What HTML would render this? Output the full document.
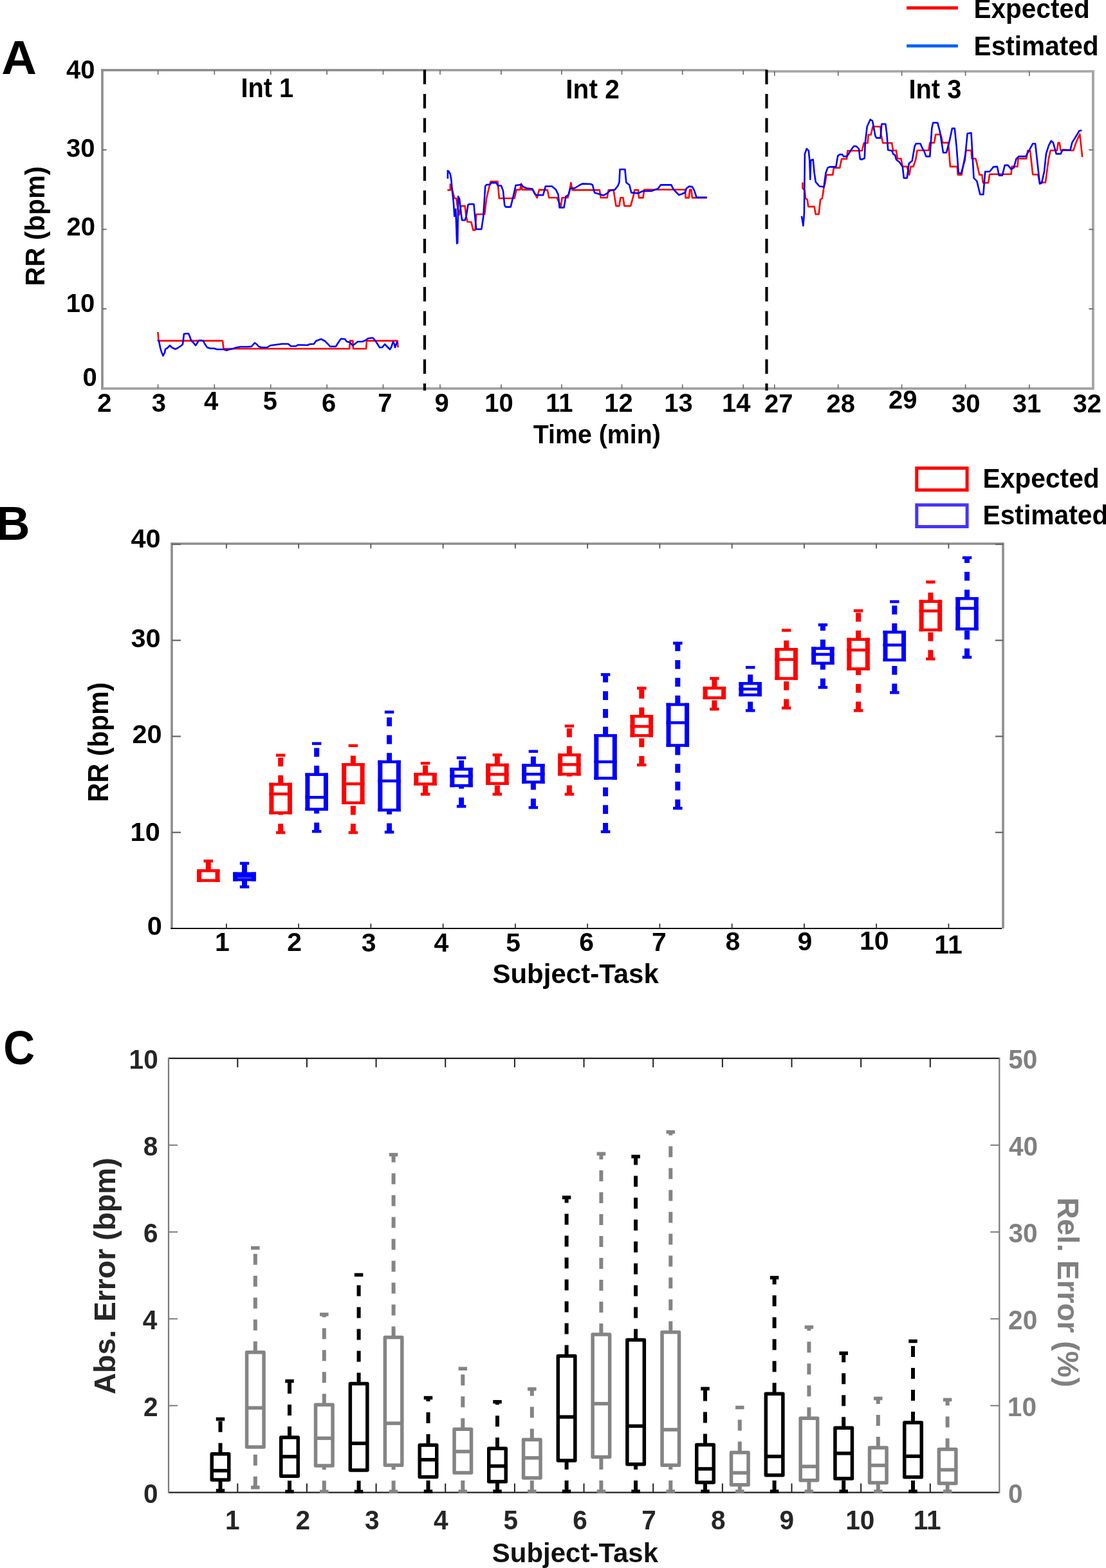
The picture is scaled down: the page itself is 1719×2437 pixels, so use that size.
<!DOCTYPE html>
<html><head><meta charset="utf-8"><title>Figure</title>
<style>
html,body{margin:0;padding:0;background:#fff;}
body{width:1719px;height:2437px;overflow:hidden;}
svg{display:block;}
svg text{font-family:'Liberation Sans', Arial, sans-serif;font-weight:bold;}
</style></head>
<body>
<svg width="1719" height="2437" viewBox="0 0 1719 2437">
<rect width="1719" height="2437" fill="#fff"/>
<line x1="1409.1" y1="12.3" x2="1488.9" y2="12.3" stroke="#ff0000" stroke-width="4.9" />
<line x1="1409.1" y1="71.4" x2="1488.9" y2="71.4" stroke="#0060ff" stroke-width="4.9" />
<text transform="translate(1513.56,85.90) scale(0.9742,1)" font-size="41.70" fill="#000">Estimated</text>
<text transform="translate(1513.57,27.70) scale(0.9715,1)" font-size="41.70" fill="#000">Expected</text>
<text transform="translate(2.20,114.90) scale(1.0302,1)" font-size="73.60" fill="#000">A</text>
<line x1="159" y1="107.8" x2="159" y2="605.6999999999999" stroke="#8f8f8f" stroke-width="3.7" />
<line x1="1698.9" y1="109.10000000000001" x2="1698.9" y2="605.6999999999999" stroke="#a3a3a3" stroke-width="3.8" />
<line x1="159" y1="603.9" x2="1698.9" y2="603.9" stroke="#a2a2a2" stroke-width="3.8" />
<line x1="157.2" y1="109.0" x2="660" y2="109.0" stroke="#8a8a8a" stroke-width="3.7" />
<line x1="660" y1="109.0" x2="1192" y2="109.0" stroke="#9a9a9a" stroke-width="3.7" />
<line x1="1192" y1="110.9" x2="1700.8000000000002" y2="110.9" stroke="#a8a8a8" stroke-width="3.8" />
<line x1="245.6" y1="603.9" x2="245.6" y2="597.4" stroke="#666" stroke-width="1.6" />
<line x1="245.6" y1="109.0" x2="245.6" y2="116.0" stroke="#666" stroke-width="1.6" />
<line x1="333.3" y1="603.9" x2="333.3" y2="597.4" stroke="#666" stroke-width="1.6" />
<line x1="333.3" y1="109.0" x2="333.3" y2="116.0" stroke="#666" stroke-width="1.6" />
<line x1="420.7" y1="603.9" x2="420.7" y2="597.4" stroke="#666" stroke-width="1.6" />
<line x1="420.7" y1="109.0" x2="420.7" y2="116.0" stroke="#666" stroke-width="1.6" />
<line x1="508.1" y1="603.9" x2="508.1" y2="597.4" stroke="#666" stroke-width="1.6" />
<line x1="508.1" y1="109.0" x2="508.1" y2="116.0" stroke="#666" stroke-width="1.6" />
<line x1="595.5" y1="603.9" x2="595.5" y2="597.4" stroke="#666" stroke-width="1.6" />
<line x1="595.5" y1="109.0" x2="595.5" y2="116.0" stroke="#666" stroke-width="1.6" />
<line x1="684.0" y1="603.9" x2="684.0" y2="597.4" stroke="#666" stroke-width="1.6" />
<line x1="684.0" y1="109.0" x2="684.0" y2="116.0" stroke="#666" stroke-width="1.6" />
<line x1="778.9" y1="603.9" x2="778.9" y2="597.4" stroke="#666" stroke-width="1.6" />
<line x1="778.9" y1="109.0" x2="778.9" y2="116.0" stroke="#666" stroke-width="1.6" />
<line x1="873.0" y1="603.9" x2="873.0" y2="597.4" stroke="#666" stroke-width="1.6" />
<line x1="873.0" y1="109.0" x2="873.0" y2="116.0" stroke="#666" stroke-width="1.6" />
<line x1="966.5" y1="603.9" x2="966.5" y2="597.4" stroke="#666" stroke-width="1.6" />
<line x1="966.5" y1="109.0" x2="966.5" y2="116.0" stroke="#666" stroke-width="1.6" />
<line x1="1060.7" y1="603.9" x2="1060.7" y2="597.4" stroke="#666" stroke-width="1.6" />
<line x1="1060.7" y1="109.0" x2="1060.7" y2="116.0" stroke="#666" stroke-width="1.6" />
<line x1="1155.2" y1="603.9" x2="1155.2" y2="597.4" stroke="#666" stroke-width="1.6" />
<line x1="1155.2" y1="109.0" x2="1155.2" y2="116.0" stroke="#666" stroke-width="1.6" />
<line x1="1203.8" y1="603.9" x2="1203.8" y2="597.4" stroke="#666" stroke-width="1.6" />
<line x1="1203.8" y1="110.9" x2="1203.8" y2="117.9" stroke="#666" stroke-width="1.6" />
<line x1="1302.7" y1="603.9" x2="1302.7" y2="597.4" stroke="#666" stroke-width="1.6" />
<line x1="1302.7" y1="110.9" x2="1302.7" y2="117.9" stroke="#666" stroke-width="1.6" />
<line x1="1401.6" y1="603.9" x2="1401.6" y2="597.4" stroke="#666" stroke-width="1.6" />
<line x1="1401.6" y1="110.9" x2="1401.6" y2="117.9" stroke="#666" stroke-width="1.6" />
<line x1="1500.6" y1="603.9" x2="1500.6" y2="597.4" stroke="#666" stroke-width="1.6" />
<line x1="1500.6" y1="110.9" x2="1500.6" y2="117.9" stroke="#666" stroke-width="1.6" />
<line x1="1599.8" y1="603.9" x2="1599.8" y2="597.4" stroke="#666" stroke-width="1.6" />
<line x1="1599.8" y1="110.9" x2="1599.8" y2="117.9" stroke="#666" stroke-width="1.6" />
<line x1="159" y1="480.05" x2="165.5" y2="480.05" stroke="#666" stroke-width="1.8" />
<line x1="1698.9" y1="480.05" x2="1692.4" y2="480.05" stroke="#666" stroke-width="1.8" />
<line x1="159" y1="356.5" x2="165.5" y2="356.5" stroke="#666" stroke-width="1.8" />
<line x1="1698.9" y1="356.5" x2="1692.4" y2="356.5" stroke="#666" stroke-width="1.8" />
<line x1="159" y1="232.95" x2="165.5" y2="232.95" stroke="#666" stroke-width="1.8" />
<line x1="1698.9" y1="232.95" x2="1692.4" y2="232.95" stroke="#666" stroke-width="1.8" />
<text x="103.00" y="121.50" font-size="40.00" fill="#000">40</text>
<text x="103.00" y="244.30" font-size="40.00" fill="#000">30</text>
<text x="103.40" y="366.40" font-size="40.00" fill="#000">20</text>
<text x="102.80" y="484.50" font-size="40.00" fill="#000">10</text>
<text x="128.40" y="599.60" font-size="40.00" fill="#000">0</text>
<text x="151.30" y="640.20" font-size="40.00" fill="#000">2</text>
<text x="235.80" y="640.20" font-size="40.00" fill="#000">3</text>
<text x="317.00" y="637.20" font-size="40.00" fill="#000">4</text>
<text x="408.80" y="637.20" font-size="40.00" fill="#000">5</text>
<text x="500.00" y="640.20" font-size="40.00" fill="#000">6</text>
<text x="587.30" y="640.20" font-size="40.00" fill="#000">7</text>
<text x="675.40" y="640.10" font-size="40.00" fill="#000">9</text>
<text x="753.30" y="640.10" font-size="40.00" fill="#000">10</text>
<text x="848.30" y="640.10" font-size="40.00" fill="#000">11</text>
<text x="939.30" y="640.10" font-size="40.00" fill="#000">12</text>
<text x="1032.20" y="640.10" font-size="40.00" fill="#000">13</text>
<text x="1122.00" y="640.10" font-size="40.00" fill="#000">14</text>
<text x="1188.10" y="640.90" font-size="40.00" fill="#000">27</text>
<text x="1284.60" y="640.90" font-size="40.00" fill="#000">28</text>
<text x="1381.10" y="635.20" font-size="40.00" fill="#000">29</text>
<text x="1479.00" y="640.90" font-size="40.00" fill="#000">30</text>
<text x="1573.80" y="640.90" font-size="40.00" fill="#000">31</text>
<text x="1667.60" y="640.90" font-size="40.00" fill="#000">32</text>
<text transform="translate(828.81,688.70) scale(0.9829,1)" font-size="40.00" fill="#000">Time (min)</text>
<text transform="translate(68.90,444.39) rotate(-90) scale(0.9862,1)" font-size="41.90" fill="#000">RR (bpm)</text>
<text transform="translate(879.36,152.80) scale(0.9658,1)" font-size="42.00" fill="#000">Int 2</text>
<text transform="translate(1412.51,152.80) scale(0.9475,1)" font-size="42.00" fill="#000">Int 3</text>
<text transform="translate(374.41,150.70) scale(0.9550,1)" font-size="41.70" fill="#000">Int 1</text>
<line x1="660.0" y1="108.6" x2="660.0" y2="606.9" stroke="#000" stroke-width="4.2" stroke-dasharray="22.5 15"/>
<line x1="1191.5" y1="108.6" x2="1191.5" y2="606.9" stroke="#000" stroke-width="4.2" stroke-dasharray="22.5 15"/>
<polyline points="245.4,516.0 246.5,529.6 346.0,529.6 347.5,542.0 543.2,542.0 544.0,529.6 548.3,529.6 549.0,542.0 569.0,542.0 570.0,529.6 617.7,529.6 618.5,540.0" fill="none" stroke="#ff0000" stroke-width="2.6" stroke-linejoin="round"/>
<polyline points="695.4,295.4 699.9,295.4 699.9,286.5 702.8,294.4 706.3,308.3 709.3,308.3 710.7,319.1 713.7,334.0 716.2,321.1 717.7,320.1 722.6,320.1 724.6,336.0 726.5,344.8 732.5,345.3 735.4,357.7 738.4,357.7 740.4,333.0 753.2,333.0 756.2,308.3 760.1,291.5 762.6,282.1 773.5,282.1 775.9,308.3 799.6,308.3 802.6,294.9 808.5,294.9 810.0,285.6 811.5,294.9 828.3,294.9 834.7,307.3 838.1,294.9 850.9,295.4 853.3,307.3 865.7,307.3 871.6,321.1 873.6,307.3 882.5,307.3 885.4,295.4 887.4,284.1 889.4,295.4 931.9,295.4 933.8,307.3 943.7,307.3 945.7,295.4 953.6,295.4 957.5,320.1 962.5,320.1 964.4,307.3 968.4,307.3 970.4,320.1 980.2,320.1 984.2,305.3 986.2,295.4 992.1,295.4 993.0,307.4 999.6,307.4 1001.1,294.8 1064.8,294.8 1065.6,307.4 1070.7,307.4 1072.2,294.8 1074.4,294.8 1075.9,307.4 1098.9,307.4" fill="none" stroke="#ff0000" stroke-width="2.6" stroke-linejoin="round"/>
<polyline points="1247.4,283.6 1247.4,292.5 1250.9,296.4 1251.9,308.3 1254.8,310.2 1256.3,321.1 1265.7,321.1 1267.7,333.0 1272.6,333.0 1275.1,310.2 1278.0,308.3 1280.5,291.5 1282.5,284.6 1284.4,271.7 1294.3,271.7 1295.8,260.9 1305.2,260.9 1308.1,247.0 1316.0,247.0 1317.5,234.2 1339.8,234.2 1342.7,222.3 1348.6,222.3 1349.6,209.5 1353.6,209.5 1356.5,196.7 1368.4,196.7 1369.4,209.5 1372.3,222.3 1386.2,222.3 1388.1,234.2 1393.0,233.7 1394.9,246.5 1400.4,246.5 1402.8,258.9 1409.8,258.9 1413.2,271.7 1415.7,258.9 1419.6,258.9 1423.6,246.5 1425.6,233.7 1443.3,233.7 1445.3,221.9 1452.2,221.9 1454.2,209.0 1462.1,209.0 1465.1,221.9 1473.9,221.9 1476.9,258.9 1487.8,258.9 1488.8,271.7 1494.7,271.7 1496.7,258.9 1501.6,233.7 1509.5,233.7 1510.5,246.5 1516.4,246.5 1519.4,258.9 1522.3,271.7 1526.3,271.7 1527.8,284.1 1536.2,284.1 1538.1,270.7 1571.6,270.7 1572.6,258.9 1581.5,258.9 1582.5,246.5 1595.3,246.5 1597.3,234.2 1601.2,234.2 1605.2,271.2 1613.1,271.2 1616.0,283.6 1624.9,283.6 1629.9,246.5 1632.8,233.7 1642.7,233.7 1644.7,221.9 1646.7,221.9 1648.6,233.7 1668.4,233.7 1672.3,221.9 1678.3,208.5 1682.2,244.1" fill="none" stroke="#ff0000" stroke-width="2.6" stroke-linejoin="round"/>
<polyline points="245.0,528.4 247.0,530.0 249.0,540.0 251.0,547.0 253.5,553.0 256.0,548.0 257.0,542.6 260.0,541.0 264.0,537.0 267.0,540.0 272.5,542.6 276.0,541.0 282.0,537.0 284.0,535.0 286.0,519.0 289.0,518.5 293.0,518.5 295.0,523.0 297.0,529.0 301.0,533.0 304.0,537.0 306.0,534.0 309.0,529.0 313.0,529.0 316.0,530.0 318.0,534.0 322.0,540.0 327.0,541.5 333.0,541.5 337.0,543.0 342.0,543.0 348.0,543.0 352.0,544.5 357.0,543.0 362.0,542.0 368.0,540.0 374.0,539.0 385.0,539.0 391.0,538.5 394.0,535.0 396.0,533.0 399.0,535.0 402.0,538.5 406.0,540.0 415.0,540.0 420.0,537.0 438.0,534.5 448.0,534.5 452.0,538.0 460.0,538.0 463.0,536.0 478.0,536.5 481.0,535.0 488.0,534.5 491.0,530.0 499.0,527.0 505.0,530.0 510.0,535.0 513.0,538.5 522.0,538.5 526.0,532.0 530.0,526.5 536.0,527.0 539.0,531.0 544.0,532.0 548.0,537.0 551.0,535.0 556.0,531.0 563.0,531.0 568.0,529.0 572.0,526.0 579.0,525.0 581.0,526.5 585.0,532.0 590.0,540.0 594.0,540.0 598.0,535.0 602.0,539.0 606.0,543.0 608.0,540.0 611.0,531.0 613.0,535.0 614.0,540.0 617.0,532.0 618.0,534.0" fill="none" stroke="#0000ff" stroke-width="2.6" stroke-linejoin="round"/>
<polyline points="695.9,277.7 695.9,265.3 697.9,266.8 699.9,270.7 701.4,279.6 702.8,296.4 704.8,313.2 706.3,335.9 708.3,325.1 710.2,378.4 711.2,377.4 712.2,305.3 714.2,309.3 716.7,332.0 718.1,342.3 722.6,342.3 724.6,336.9 727.5,318.1 729.5,317.2 736.4,317.2 739.4,348.8 740.4,356.2 748.3,356.2 751.2,336.9 754.2,289.5 756.2,287.0 761.1,287.0 764.1,284.1 771.0,284.1 774.0,288.5 778.9,288.5 781.9,296.4 784.3,319.1 785.8,321.6 793.7,321.6 797.7,305.3 801.6,288.0 810.5,287.0 813.5,290.5 818.4,292.5 827.3,293.5 831.2,301.4 834.2,303.3 844.1,303.3 847.9,289.5 857.8,289.5 863.7,294.4 867.7,302.3 869.6,322.6 876.5,322.6 879.5,305.3 883.5,302.8 886.4,292.5 893.3,292.5 901.2,287.5 905.2,285.6 918.0,286.0 921.0,287.5 924.0,299.4 928.9,300.9 933.8,302.3 937.8,303.8 943.7,300.4 948.6,295.9 955.6,294.9 960.5,288.5 962.5,283.6 963.5,263.3 971.4,263.3 973.3,283.6 978.3,287.5 981.2,299.4 986.2,299.9 992.1,300.4 998.9,297.0 1012.2,297.0 1022.6,293.3 1027.0,287.4 1043.3,287.4 1046.3,293.3 1049.3,297.0 1055.2,303.0 1059.6,301.5 1064.8,299.3 1067.0,292.6 1071.5,289.6 1075.9,290.4 1078.9,295.6 1082.6,306.7 1098.9,306.7" fill="none" stroke="#0000ff" stroke-width="2.6" stroke-linejoin="round"/>
<polyline points="1245.9,335.9 1248.4,350.7 1249.9,332.0 1250.9,239.1 1253.8,231.2 1256.8,234.2 1258.3,249.0 1259.3,278.6 1260.2,249.0 1263.7,248.0 1265.7,268.8 1267.7,282.6 1273.6,289.5 1280.5,290.5 1283.5,268.8 1286.4,260.9 1289.4,259.4 1299.3,259.4 1302.2,242.1 1305.2,240.1 1309.1,240.1 1311.1,243.1 1316.0,243.1 1319.0,239.1 1324.0,231.2 1326.9,227.3 1330.9,227.3 1334.8,231.2 1336.8,247.0 1338.8,248.0 1343.7,246.0 1344.7,222.3 1347.7,196.7 1352.6,185.8 1356.0,187.8 1360.5,211.5 1362.5,214.4 1368.4,214.4 1370.4,192.7 1376.3,192.7 1378.3,207.5 1380.2,233.2 1386.2,234.2 1388.1,239.1 1391.1,241.1 1393.0,248.0 1397.9,252.0 1402.8,258.9 1404.8,276.7 1409.8,276.7 1412.7,254.0 1417.7,250.0 1421.6,227.3 1423.6,223.3 1430.5,223.3 1433.5,230.2 1436.4,235.2 1439.4,243.1 1445.3,243.1 1448.3,199.6 1450.2,190.7 1457.2,190.7 1461.1,205.6 1466.0,237.2 1471.0,237.2 1475.9,218.4 1479.9,199.6 1483.8,199.6 1486.8,229.3 1489.8,268.8 1493.7,269.8 1499.6,249.0 1503.6,207.5 1509.5,206.5 1513.5,276.7 1518.4,281.6 1523.3,302.3 1528.3,302.3 1531.2,266.8 1538.1,266.8 1544.1,259.4 1549.9,258.9 1552.8,272.7 1557.8,272.7 1561.7,256.9 1566.7,256.9 1571.6,262.8 1575.6,260.9 1579.5,247.0 1583.5,243.1 1594.3,243.1 1599.3,234.2 1605.2,223.3 1609.1,223.3 1613.1,258.9 1616.0,285.6 1619.0,284.6 1623.0,266.8 1625.9,239.1 1629.9,226.3 1633.8,218.9 1636.8,221.4 1641.7,239.1 1648.6,239.1 1651.6,232.7 1663.5,233.2 1666.4,221.4 1671.4,213.5 1677.3,203.6 1681.2,202.6" fill="none" stroke="#0000ff" stroke-width="2.6" stroke-linejoin="round"/>
<text transform="translate(-6.61,838.70) scale(1.0000,1)" font-size="73.50" fill="#000">B</text>
<rect x="1424.8" y="727.6" width="78.29999999999995" height="34.0" fill="none" stroke="#ff0000" stroke-width="5"/>
<rect x="1424.8" y="784.8" width="78.29999999999995" height="33.700000000000045" fill="none" stroke="#4433ff" stroke-width="5"/>
<text transform="translate(1527.45,757.80) scale(0.9805,1)" font-size="41.60" fill="#000">Expected</text>
<text transform="translate(1527.45,814.70) scale(0.9805,1)" font-size="41.60" fill="#000">Estimated</text>
<line x1="267.0" y1="845.0" x2="1559.0" y2="845.0" stroke="#8e8e8e" stroke-width="3.6" />
<line x1="267.0" y1="843.2" x2="267.0" y2="1443.0" stroke="#8e8e8e" stroke-width="3.6" />
<line x1="1559.0" y1="843.2" x2="1559.0" y2="1443.0" stroke="#8e8e8e" stroke-width="3.6" />
<line x1="265.2" y1="1443.0" x2="1557.2" y2="1443.0" stroke="#111" stroke-width="2.2" />
<line x1="351.9" y1="1443.0" x2="351.9" y2="1435.5" stroke="#333" stroke-width="1.8" />
<line x1="351.9" y1="845.0" x2="351.9" y2="852.5" stroke="#555" stroke-width="1.8" />
<line x1="464.15" y1="1443.0" x2="464.15" y2="1435.5" stroke="#333" stroke-width="1.8" />
<line x1="464.15" y1="845.0" x2="464.15" y2="852.5" stroke="#555" stroke-width="1.8" />
<line x1="576.4" y1="1443.0" x2="576.4" y2="1435.5" stroke="#333" stroke-width="1.8" />
<line x1="576.4" y1="845.0" x2="576.4" y2="852.5" stroke="#555" stroke-width="1.8" />
<line x1="688.65" y1="1443.0" x2="688.65" y2="1435.5" stroke="#333" stroke-width="1.8" />
<line x1="688.65" y1="845.0" x2="688.65" y2="852.5" stroke="#555" stroke-width="1.8" />
<line x1="800.9" y1="1443.0" x2="800.9" y2="1435.5" stroke="#333" stroke-width="1.8" />
<line x1="800.9" y1="845.0" x2="800.9" y2="852.5" stroke="#555" stroke-width="1.8" />
<line x1="913.15" y1="1443.0" x2="913.15" y2="1435.5" stroke="#333" stroke-width="1.8" />
<line x1="913.15" y1="845.0" x2="913.15" y2="852.5" stroke="#555" stroke-width="1.8" />
<line x1="1025.4" y1="1443.0" x2="1025.4" y2="1435.5" stroke="#333" stroke-width="1.8" />
<line x1="1025.4" y1="845.0" x2="1025.4" y2="852.5" stroke="#555" stroke-width="1.8" />
<line x1="1137.65" y1="1443.0" x2="1137.65" y2="1435.5" stroke="#333" stroke-width="1.8" />
<line x1="1137.65" y1="845.0" x2="1137.65" y2="852.5" stroke="#555" stroke-width="1.8" />
<line x1="1249.9" y1="1443.0" x2="1249.9" y2="1435.5" stroke="#333" stroke-width="1.8" />
<line x1="1249.9" y1="845.0" x2="1249.9" y2="852.5" stroke="#555" stroke-width="1.8" />
<line x1="1362.15" y1="1443.0" x2="1362.15" y2="1435.5" stroke="#333" stroke-width="1.8" />
<line x1="1362.15" y1="845.0" x2="1362.15" y2="852.5" stroke="#555" stroke-width="1.8" />
<line x1="1474.4" y1="1443.0" x2="1474.4" y2="1435.5" stroke="#333" stroke-width="1.8" />
<line x1="1474.4" y1="845.0" x2="1474.4" y2="852.5" stroke="#555" stroke-width="1.8" />
<line x1="267.0" y1="1293.75" x2="281.0" y2="1293.75" stroke="#666" stroke-width="2.2" />
<line x1="1559.0" y1="1293.75" x2="1547.0" y2="1293.75" stroke="#666" stroke-width="2.2" />
<line x1="267.0" y1="1144.5" x2="281.0" y2="1144.5" stroke="#666" stroke-width="2.2" />
<line x1="1559.0" y1="1144.5" x2="1547.0" y2="1144.5" stroke="#666" stroke-width="2.2" />
<line x1="267.0" y1="995.25" x2="281.0" y2="995.25" stroke="#666" stroke-width="2.2" />
<line x1="1559.0" y1="995.25" x2="1547.0" y2="995.25" stroke="#666" stroke-width="2.2" />
<line x1="267.0" y1="846.0" x2="281.0" y2="846.0" stroke="#666" stroke-width="2.2" />
<line x1="1559.0" y1="846.0" x2="1547.0" y2="846.0" stroke="#666" stroke-width="2.2" />
<text x="203.50" y="850.70" font-size="41.50" fill="#000">40</text>
<text x="203.50" y="1005.70" font-size="41.50" fill="#000">30</text>
<text x="205.40" y="1154.60" font-size="41.50" fill="#000">20</text>
<text x="202.59" y="1307.30" font-size="41.50" fill="#000">10</text>
<text x="228.63" y="1453.30" font-size="41.50" fill="#000">0</text>
<text x="334.10" y="1477.70" font-size="41.00" fill="#000">1</text>
<text x="446.23" y="1477.70" font-size="41.00" fill="#000">2</text>
<text x="561.63" y="1479.20" font-size="41.00" fill="#000">3</text>
<text x="674.42" y="1479.20" font-size="41.00" fill="#000">4</text>
<text x="786.22" y="1478.60" font-size="41.00" fill="#000">5</text>
<text x="900.22" y="1478.00" font-size="41.00" fill="#000">6</text>
<text x="1013.12" y="1478.00" font-size="41.00" fill="#000">7</text>
<text x="1127.42" y="1476.80" font-size="41.00" fill="#000">8</text>
<text x="1239.62" y="1476.80" font-size="41.00" fill="#000">9</text>
<text x="1335.93" y="1476.10" font-size="41.00" fill="#000">10</text>
<text x="1452.35" y="1481.80" font-size="41.00" fill="#000">11</text>
<text transform="translate(765.44,1527.70) scale(0.9770,1)" font-size="43.00" fill="#000">Subject-Task</text>
<text transform="translate(168.00,1246.39) rotate(-90) scale(0.9499,1)" font-size="43.50" fill="#000">RR (bpm)</text>
<line x1="323.8" y1="1353.3" x2="323.8" y2="1338.2" stroke="#ff0000" stroke-width="8.0" stroke-dasharray="13.8 13.8"/><line x1="316.55" y1="1338.2" x2="331.05" y2="1338.2" stroke="#ff0000" stroke-width="4.5"/><line x1="309.55" y1="1351.05" x2="309.55" y2="1370.65" stroke="#ff0000" stroke-width="7.0"/><line x1="338.05" y1="1351.05" x2="338.05" y2="1370.65" stroke="#ff0000" stroke-width="7.0"/><line x1="306.05" y1="1353.3" x2="341.55" y2="1353.3" stroke="#ff0000" stroke-width="4.5"/><line x1="306.05" y1="1368.4" x2="341.55" y2="1368.4" stroke="#ff0000" stroke-width="4.5"/>
<line x1="436.2" y1="1218.9" x2="436.2" y2="1173.8" stroke="#ff0000" stroke-width="8.0" stroke-dasharray="13.8 13.8"/><line x1="428.95" y1="1173.8" x2="443.45" y2="1173.8" stroke="#ff0000" stroke-width="4.5"/><line x1="436.2" y1="1294" x2="436.2" y2="1263.3" stroke="#ff0000" stroke-width="8.0" stroke-dasharray="13.8 13.8"/><line x1="428.95" y1="1294" x2="443.45" y2="1294" stroke="#ff0000" stroke-width="4.5"/><line x1="421.95" y1="1216.65" x2="421.95" y2="1265.55" stroke="#ff0000" stroke-width="7.0"/><line x1="450.45" y1="1216.65" x2="450.45" y2="1265.55" stroke="#ff0000" stroke-width="7.0"/><line x1="418.45" y1="1218.9" x2="453.95" y2="1218.9" stroke="#ff0000" stroke-width="4.5"/><line x1="418.45" y1="1263.3" x2="453.95" y2="1263.3" stroke="#ff0000" stroke-width="4.5"/><line x1="418.45" y1="1234" x2="453.95" y2="1234" stroke="#ff0000" stroke-width="4.5"/>
<line x1="548.9" y1="1188.2" x2="548.9" y2="1158.9" stroke="#ff0000" stroke-width="8.0" stroke-dasharray="13.8 13.8"/><line x1="541.65" y1="1158.9" x2="556.15" y2="1158.9" stroke="#ff0000" stroke-width="4.5"/><line x1="548.9" y1="1294" x2="548.9" y2="1247.8" stroke="#ff0000" stroke-width="8.0" stroke-dasharray="13.8 13.8"/><line x1="541.65" y1="1294" x2="556.15" y2="1294" stroke="#ff0000" stroke-width="4.5"/><line x1="534.65" y1="1185.95" x2="534.65" y2="1250.05" stroke="#ff0000" stroke-width="7.0"/><line x1="563.15" y1="1185.95" x2="563.15" y2="1250.05" stroke="#ff0000" stroke-width="7.0"/><line x1="531.15" y1="1188.2" x2="566.65" y2="1188.2" stroke="#ff0000" stroke-width="4.5"/><line x1="531.15" y1="1247.8" x2="566.65" y2="1247.8" stroke="#ff0000" stroke-width="4.5"/><line x1="531.15" y1="1218.2" x2="566.65" y2="1218.2" stroke="#ff0000" stroke-width="4.5"/>
<line x1="661.1" y1="1203.3" x2="661.1" y2="1186.2" stroke="#ff0000" stroke-width="8.0" stroke-dasharray="13.8 13.8"/><line x1="653.85" y1="1186.2" x2="668.35" y2="1186.2" stroke="#ff0000" stroke-width="4.5"/><line x1="661.1" y1="1234.4" x2="661.1" y2="1218.4" stroke="#ff0000" stroke-width="8.0" stroke-dasharray="13.8 13.8"/><line x1="653.85" y1="1234.4" x2="668.35" y2="1234.4" stroke="#ff0000" stroke-width="4.5"/><line x1="646.85" y1="1201.05" x2="646.85" y2="1220.65" stroke="#ff0000" stroke-width="7.0"/><line x1="675.35" y1="1201.05" x2="675.35" y2="1220.65" stroke="#ff0000" stroke-width="7.0"/><line x1="643.35" y1="1203.3" x2="678.85" y2="1203.3" stroke="#ff0000" stroke-width="4.5"/><line x1="643.35" y1="1218.4" x2="678.85" y2="1218.4" stroke="#ff0000" stroke-width="4.5"/>
<line x1="772.9" y1="1188.9" x2="772.9" y2="1173.3" stroke="#ff0000" stroke-width="8.0" stroke-dasharray="13.8 13.8"/><line x1="765.65" y1="1173.3" x2="780.15" y2="1173.3" stroke="#ff0000" stroke-width="4.5"/><line x1="772.9" y1="1234.4" x2="772.9" y2="1217.8" stroke="#ff0000" stroke-width="8.0" stroke-dasharray="13.8 13.8"/><line x1="765.65" y1="1234.4" x2="780.15" y2="1234.4" stroke="#ff0000" stroke-width="4.5"/><line x1="758.65" y1="1186.65" x2="758.65" y2="1220.05" stroke="#ff0000" stroke-width="7.0"/><line x1="787.15" y1="1186.65" x2="787.15" y2="1220.05" stroke="#ff0000" stroke-width="7.0"/><line x1="755.15" y1="1188.9" x2="790.65" y2="1188.9" stroke="#ff0000" stroke-width="4.5"/><line x1="755.15" y1="1217.8" x2="790.65" y2="1217.8" stroke="#ff0000" stroke-width="4.5"/><line x1="755.15" y1="1203.6" x2="790.65" y2="1203.6" stroke="#ff0000" stroke-width="4.5"/>
<line x1="884.9" y1="1173.3" x2="884.9" y2="1128.4" stroke="#ff0000" stroke-width="8.0" stroke-dasharray="13.8 13.8"/><line x1="877.65" y1="1128.4" x2="892.15" y2="1128.4" stroke="#ff0000" stroke-width="4.5"/><line x1="884.9" y1="1234.4" x2="884.9" y2="1203.3" stroke="#ff0000" stroke-width="8.0" stroke-dasharray="13.8 13.8"/><line x1="877.65" y1="1234.4" x2="892.15" y2="1234.4" stroke="#ff0000" stroke-width="4.5"/><line x1="870.65" y1="1171.05" x2="870.65" y2="1205.55" stroke="#ff0000" stroke-width="7.0"/><line x1="899.15" y1="1171.05" x2="899.15" y2="1205.55" stroke="#ff0000" stroke-width="7.0"/><line x1="867.15" y1="1173.3" x2="902.65" y2="1173.3" stroke="#ff0000" stroke-width="4.5"/><line x1="867.15" y1="1203.3" x2="902.65" y2="1203.3" stroke="#ff0000" stroke-width="4.5"/><line x1="867.15" y1="1188.2" x2="902.65" y2="1188.2" stroke="#ff0000" stroke-width="4.5"/>
<line x1="997.3" y1="1113.3" x2="997.3" y2="1069.6" stroke="#ff0000" stroke-width="8.0" stroke-dasharray="13.8 13.8"/><line x1="990.05" y1="1069.6" x2="1004.55" y2="1069.6" stroke="#ff0000" stroke-width="4.5"/><line x1="997.3" y1="1188.9" x2="997.3" y2="1143.3" stroke="#ff0000" stroke-width="8.0" stroke-dasharray="13.8 13.8"/><line x1="990.05" y1="1188.9" x2="1004.55" y2="1188.9" stroke="#ff0000" stroke-width="4.5"/><line x1="983.05" y1="1111.05" x2="983.05" y2="1145.55" stroke="#ff0000" stroke-width="7.0"/><line x1="1011.55" y1="1111.05" x2="1011.55" y2="1145.55" stroke="#ff0000" stroke-width="7.0"/><line x1="979.55" y1="1113.3" x2="1015.05" y2="1113.3" stroke="#ff0000" stroke-width="4.5"/><line x1="979.55" y1="1143.3" x2="1015.05" y2="1143.3" stroke="#ff0000" stroke-width="4.5"/><line x1="979.55" y1="1128.9" x2="1015.05" y2="1128.9" stroke="#ff0000" stroke-width="4.5"/>
<line x1="1110.4" y1="1069.6" x2="1110.4" y2="1054.4" stroke="#ff0000" stroke-width="8.0" stroke-dasharray="13.8 13.8"/><line x1="1103.15" y1="1054.4" x2="1117.65" y2="1054.4" stroke="#ff0000" stroke-width="4.5"/><line x1="1110.4" y1="1102.2" x2="1110.4" y2="1084.4" stroke="#ff0000" stroke-width="8.0" stroke-dasharray="13.8 13.8"/><line x1="1103.15" y1="1102.2" x2="1117.65" y2="1102.2" stroke="#ff0000" stroke-width="4.5"/><line x1="1096.15" y1="1067.35" x2="1096.15" y2="1086.65" stroke="#ff0000" stroke-width="7.0"/><line x1="1124.65" y1="1067.35" x2="1124.65" y2="1086.65" stroke="#ff0000" stroke-width="7.0"/><line x1="1092.65" y1="1069.6" x2="1128.15" y2="1069.6" stroke="#ff0000" stroke-width="4.5"/><line x1="1092.65" y1="1084.4" x2="1128.15" y2="1084.4" stroke="#ff0000" stroke-width="4.5"/>
<line x1="1222.2" y1="1009.3" x2="1222.2" y2="979.6" stroke="#ff0000" stroke-width="8.0" stroke-dasharray="13.8 13.8"/><line x1="1214.95" y1="979.6" x2="1229.45" y2="979.6" stroke="#ff0000" stroke-width="4.5"/><line x1="1222.2" y1="1100.4" x2="1222.2" y2="1054.4" stroke="#ff0000" stroke-width="8.0" stroke-dasharray="13.8 13.8"/><line x1="1214.95" y1="1100.4" x2="1229.45" y2="1100.4" stroke="#ff0000" stroke-width="4.5"/><line x1="1207.95" y1="1007.05" x2="1207.95" y2="1056.65" stroke="#ff0000" stroke-width="7.0"/><line x1="1236.45" y1="1007.05" x2="1236.45" y2="1056.65" stroke="#ff0000" stroke-width="7.0"/><line x1="1204.45" y1="1009.3" x2="1239.95" y2="1009.3" stroke="#ff0000" stroke-width="4.5"/><line x1="1204.45" y1="1054.4" x2="1239.95" y2="1054.4" stroke="#ff0000" stroke-width="4.5"/><line x1="1204.45" y1="1025.1" x2="1239.95" y2="1025.1" stroke="#ff0000" stroke-width="4.5"/>
<line x1="1334.1" y1="993.8" x2="1334.1" y2="949.2" stroke="#ff0000" stroke-width="8.0" stroke-dasharray="13.8 13.8"/><line x1="1326.85" y1="949.2" x2="1341.35" y2="949.2" stroke="#ff0000" stroke-width="4.5"/><line x1="1334.1" y1="1104.4" x2="1334.1" y2="1039.6" stroke="#ff0000" stroke-width="8.0" stroke-dasharray="13.8 13.8"/><line x1="1326.85" y1="1104.4" x2="1341.35" y2="1104.4" stroke="#ff0000" stroke-width="4.5"/><line x1="1319.85" y1="991.55" x2="1319.85" y2="1041.85" stroke="#ff0000" stroke-width="7.0"/><line x1="1348.35" y1="991.55" x2="1348.35" y2="1041.85" stroke="#ff0000" stroke-width="7.0"/><line x1="1316.35" y1="993.8" x2="1351.85" y2="993.8" stroke="#ff0000" stroke-width="4.5"/><line x1="1316.35" y1="1039.6" x2="1351.85" y2="1039.6" stroke="#ff0000" stroke-width="4.5"/><line x1="1316.35" y1="1010.2" x2="1351.85" y2="1010.2" stroke="#ff0000" stroke-width="4.5"/>
<line x1="1446.4" y1="934.7" x2="1446.4" y2="904.5" stroke="#ff0000" stroke-width="8.0" stroke-dasharray="13.8 13.8"/><line x1="1439.15" y1="904.5" x2="1453.65" y2="904.5" stroke="#ff0000" stroke-width="4.5"/><line x1="1446.4" y1="1024.1" x2="1446.4" y2="979.1" stroke="#ff0000" stroke-width="8.0" stroke-dasharray="13.8 13.8"/><line x1="1439.15" y1="1024.1" x2="1453.65" y2="1024.1" stroke="#ff0000" stroke-width="4.5"/><line x1="1432.15" y1="932.45" x2="1432.15" y2="981.35" stroke="#ff0000" stroke-width="7.0"/><line x1="1460.65" y1="932.45" x2="1460.65" y2="981.35" stroke="#ff0000" stroke-width="7.0"/><line x1="1428.65" y1="934.7" x2="1464.15" y2="934.7" stroke="#ff0000" stroke-width="4.5"/><line x1="1428.65" y1="979.1" x2="1464.15" y2="979.1" stroke="#ff0000" stroke-width="4.5"/><line x1="1428.65" y1="949.4" x2="1464.15" y2="949.4" stroke="#ff0000" stroke-width="4.5"/>
<line x1="380" y1="1357.8" x2="380" y2="1341.8" stroke="#0000ff" stroke-width="8.0" stroke-dasharray="13.8 13.8"/><line x1="372.75" y1="1341.8" x2="387.25" y2="1341.8" stroke="#0000ff" stroke-width="4.5"/><line x1="380" y1="1378.4" x2="380" y2="1367.3" stroke="#0000ff" stroke-width="8.0" stroke-dasharray="13.8 13.8"/><line x1="372.75" y1="1378.4" x2="387.25" y2="1378.4" stroke="#0000ff" stroke-width="4.5"/><line x1="365.75" y1="1355.55" x2="365.75" y2="1369.55" stroke="#0000ff" stroke-width="7.0"/><line x1="394.25" y1="1355.55" x2="394.25" y2="1369.55" stroke="#0000ff" stroke-width="7.0"/><line x1="362.25" y1="1357.8" x2="397.75" y2="1357.8" stroke="#0000ff" stroke-width="4.5"/><line x1="362.25" y1="1367.3" x2="397.75" y2="1367.3" stroke="#0000ff" stroke-width="4.5"/><line x1="362.25" y1="1362.2" x2="397.75" y2="1362.2" stroke="#0000ff" stroke-width="4.5"/>
<line x1="492.2" y1="1203.8" x2="492.2" y2="1155.6" stroke="#0000ff" stroke-width="8.0" stroke-dasharray="13.8 13.8"/><line x1="484.95" y1="1155.6" x2="499.45" y2="1155.6" stroke="#0000ff" stroke-width="4.5"/><line x1="492.2" y1="1292.2" x2="492.2" y2="1257.8" stroke="#0000ff" stroke-width="8.0" stroke-dasharray="13.8 13.8"/><line x1="484.95" y1="1292.2" x2="499.45" y2="1292.2" stroke="#0000ff" stroke-width="4.5"/><line x1="477.95" y1="1201.55" x2="477.95" y2="1260.05" stroke="#0000ff" stroke-width="7.0"/><line x1="506.45" y1="1201.55" x2="506.45" y2="1260.05" stroke="#0000ff" stroke-width="7.0"/><line x1="474.45" y1="1203.8" x2="509.95" y2="1203.8" stroke="#0000ff" stroke-width="4.5"/><line x1="474.45" y1="1257.8" x2="509.95" y2="1257.8" stroke="#0000ff" stroke-width="4.5"/><line x1="474.45" y1="1239.3" x2="509.95" y2="1239.3" stroke="#0000ff" stroke-width="4.5"/>
<line x1="605.1" y1="1184" x2="605.1" y2="1106.7" stroke="#0000ff" stroke-width="8.0" stroke-dasharray="13.8 13.8"/><line x1="597.85" y1="1106.7" x2="612.35" y2="1106.7" stroke="#0000ff" stroke-width="4.5"/><line x1="605.1" y1="1293.3" x2="605.1" y2="1258.9" stroke="#0000ff" stroke-width="8.0" stroke-dasharray="13.8 13.8"/><line x1="597.85" y1="1293.3" x2="612.35" y2="1293.3" stroke="#0000ff" stroke-width="4.5"/><line x1="590.85" y1="1181.75" x2="590.85" y2="1261.15" stroke="#0000ff" stroke-width="7.0"/><line x1="619.35" y1="1181.75" x2="619.35" y2="1261.15" stroke="#0000ff" stroke-width="7.0"/><line x1="587.35" y1="1184" x2="622.85" y2="1184" stroke="#0000ff" stroke-width="4.5"/><line x1="587.35" y1="1258.9" x2="622.85" y2="1258.9" stroke="#0000ff" stroke-width="4.5"/><line x1="587.35" y1="1213.8" x2="622.85" y2="1213.8" stroke="#0000ff" stroke-width="4.5"/>
<line x1="717.1" y1="1195.6" x2="717.1" y2="1177.8" stroke="#0000ff" stroke-width="8.0" stroke-dasharray="13.8 13.8"/><line x1="709.85" y1="1177.8" x2="724.35" y2="1177.8" stroke="#0000ff" stroke-width="4.5"/><line x1="717.1" y1="1253.3" x2="717.1" y2="1221.1" stroke="#0000ff" stroke-width="8.0" stroke-dasharray="13.8 13.8"/><line x1="709.85" y1="1253.3" x2="724.35" y2="1253.3" stroke="#0000ff" stroke-width="4.5"/><line x1="702.85" y1="1193.35" x2="702.85" y2="1223.35" stroke="#0000ff" stroke-width="7.0"/><line x1="731.35" y1="1193.35" x2="731.35" y2="1223.35" stroke="#0000ff" stroke-width="7.0"/><line x1="699.35" y1="1195.6" x2="734.85" y2="1195.6" stroke="#0000ff" stroke-width="4.5"/><line x1="699.35" y1="1221.1" x2="734.85" y2="1221.1" stroke="#0000ff" stroke-width="4.5"/><line x1="699.35" y1="1206.2" x2="734.85" y2="1206.2" stroke="#0000ff" stroke-width="4.5"/>
<line x1="828.9" y1="1189.6" x2="828.9" y2="1167.8" stroke="#0000ff" stroke-width="8.0" stroke-dasharray="13.8 13.8"/><line x1="821.65" y1="1167.8" x2="836.15" y2="1167.8" stroke="#0000ff" stroke-width="4.5"/><line x1="828.9" y1="1255.1" x2="828.9" y2="1215.6" stroke="#0000ff" stroke-width="8.0" stroke-dasharray="13.8 13.8"/><line x1="821.65" y1="1255.1" x2="836.15" y2="1255.1" stroke="#0000ff" stroke-width="4.5"/><line x1="814.65" y1="1187.35" x2="814.65" y2="1217.85" stroke="#0000ff" stroke-width="7.0"/><line x1="843.15" y1="1187.35" x2="843.15" y2="1217.85" stroke="#0000ff" stroke-width="7.0"/><line x1="811.15" y1="1189.6" x2="846.65" y2="1189.6" stroke="#0000ff" stroke-width="4.5"/><line x1="811.15" y1="1215.6" x2="846.65" y2="1215.6" stroke="#0000ff" stroke-width="4.5"/><line x1="811.15" y1="1203.3" x2="846.65" y2="1203.3" stroke="#0000ff" stroke-width="4.5"/>
<line x1="941.1" y1="1143.3" x2="941.1" y2="1048.4" stroke="#0000ff" stroke-width="8.0" stroke-dasharray="13.8 13.8"/><line x1="933.85" y1="1048.4" x2="948.35" y2="1048.4" stroke="#0000ff" stroke-width="4.5"/><line x1="941.1" y1="1292.7" x2="941.1" y2="1209.6" stroke="#0000ff" stroke-width="8.0" stroke-dasharray="13.8 13.8"/><line x1="933.85" y1="1292.7" x2="948.35" y2="1292.7" stroke="#0000ff" stroke-width="4.5"/><line x1="926.85" y1="1141.05" x2="926.85" y2="1211.85" stroke="#0000ff" stroke-width="7.0"/><line x1="955.35" y1="1141.05" x2="955.35" y2="1211.85" stroke="#0000ff" stroke-width="7.0"/><line x1="923.35" y1="1143.3" x2="958.85" y2="1143.3" stroke="#0000ff" stroke-width="4.5"/><line x1="923.35" y1="1209.6" x2="958.85" y2="1209.6" stroke="#0000ff" stroke-width="4.5"/><line x1="923.35" y1="1184" x2="958.85" y2="1184" stroke="#0000ff" stroke-width="4.5"/>
<line x1="1053.3" y1="1094.9" x2="1053.3" y2="999.6" stroke="#0000ff" stroke-width="8.0" stroke-dasharray="13.8 13.8"/><line x1="1046.05" y1="999.6" x2="1060.55" y2="999.6" stroke="#0000ff" stroke-width="4.5"/><line x1="1053.3" y1="1256.2" x2="1053.3" y2="1158.4" stroke="#0000ff" stroke-width="8.0" stroke-dasharray="13.8 13.8"/><line x1="1046.05" y1="1256.2" x2="1060.55" y2="1256.2" stroke="#0000ff" stroke-width="4.5"/><line x1="1039.05" y1="1092.65" x2="1039.05" y2="1160.65" stroke="#0000ff" stroke-width="7.0"/><line x1="1067.55" y1="1092.65" x2="1067.55" y2="1160.65" stroke="#0000ff" stroke-width="7.0"/><line x1="1035.55" y1="1094.9" x2="1071.05" y2="1094.9" stroke="#0000ff" stroke-width="4.5"/><line x1="1035.55" y1="1158.4" x2="1071.05" y2="1158.4" stroke="#0000ff" stroke-width="4.5"/><line x1="1035.55" y1="1123.3" x2="1071.05" y2="1123.3" stroke="#0000ff" stroke-width="4.5"/>
<line x1="1166.2" y1="1062.2" x2="1166.2" y2="1037.3" stroke="#0000ff" stroke-width="8.0" stroke-dasharray="13.8 13.8"/><line x1="1158.95" y1="1037.3" x2="1173.45" y2="1037.3" stroke="#0000ff" stroke-width="4.5"/><line x1="1166.2" y1="1104.4" x2="1166.2" y2="1080" stroke="#0000ff" stroke-width="8.0" stroke-dasharray="13.8 13.8"/><line x1="1158.95" y1="1104.4" x2="1173.45" y2="1104.4" stroke="#0000ff" stroke-width="4.5"/><line x1="1151.95" y1="1059.95" x2="1151.95" y2="1082.25" stroke="#0000ff" stroke-width="7.0"/><line x1="1180.45" y1="1059.95" x2="1180.45" y2="1082.25" stroke="#0000ff" stroke-width="7.0"/><line x1="1148.45" y1="1062.2" x2="1183.95" y2="1062.2" stroke="#0000ff" stroke-width="4.5"/><line x1="1148.45" y1="1080" x2="1183.95" y2="1080" stroke="#0000ff" stroke-width="4.5"/><line x1="1148.45" y1="1071.1" x2="1183.95" y2="1071.1" stroke="#0000ff" stroke-width="4.5"/>
<line x1="1278.9" y1="1007.8" x2="1278.9" y2="971.1" stroke="#0000ff" stroke-width="8.0" stroke-dasharray="13.8 13.8"/><line x1="1271.65" y1="971.1" x2="1286.15" y2="971.1" stroke="#0000ff" stroke-width="4.5"/><line x1="1278.9" y1="1068.4" x2="1278.9" y2="1030.7" stroke="#0000ff" stroke-width="8.0" stroke-dasharray="13.8 13.8"/><line x1="1271.65" y1="1068.4" x2="1286.15" y2="1068.4" stroke="#0000ff" stroke-width="4.5"/><line x1="1264.65" y1="1005.55" x2="1264.65" y2="1032.95" stroke="#0000ff" stroke-width="7.0"/><line x1="1293.15" y1="1005.55" x2="1293.15" y2="1032.95" stroke="#0000ff" stroke-width="7.0"/><line x1="1261.15" y1="1007.8" x2="1296.65" y2="1007.8" stroke="#0000ff" stroke-width="4.5"/><line x1="1261.15" y1="1030.7" x2="1296.65" y2="1030.7" stroke="#0000ff" stroke-width="4.5"/><line x1="1261.15" y1="1017.1" x2="1296.65" y2="1017.1" stroke="#0000ff" stroke-width="4.5"/>
<line x1="1390.3" y1="982.6" x2="1390.3" y2="935.1" stroke="#0000ff" stroke-width="8.0" stroke-dasharray="13.8 13.8"/><line x1="1383.05" y1="935.1" x2="1397.55" y2="935.1" stroke="#0000ff" stroke-width="4.5"/><line x1="1390.3" y1="1076.4" x2="1390.3" y2="1025.8" stroke="#0000ff" stroke-width="8.0" stroke-dasharray="13.8 13.8"/><line x1="1383.05" y1="1076.4" x2="1397.55" y2="1076.4" stroke="#0000ff" stroke-width="4.5"/><line x1="1376.05" y1="980.35" x2="1376.05" y2="1028.05" stroke="#0000ff" stroke-width="7.0"/><line x1="1404.55" y1="980.35" x2="1404.55" y2="1028.05" stroke="#0000ff" stroke-width="7.0"/><line x1="1372.55" y1="982.6" x2="1408.05" y2="982.6" stroke="#0000ff" stroke-width="4.5"/><line x1="1372.55" y1="1025.8" x2="1408.05" y2="1025.8" stroke="#0000ff" stroke-width="4.5"/><line x1="1372.55" y1="1002.5" x2="1408.05" y2="1002.5" stroke="#0000ff" stroke-width="4.5"/>
<line x1="1503" y1="930.2" x2="1503" y2="866.8" stroke="#0000ff" stroke-width="8.0" stroke-dasharray="13.8 13.8"/><line x1="1495.75" y1="866.8" x2="1510.25" y2="866.8" stroke="#0000ff" stroke-width="4.5"/><line x1="1503" y1="1021.5" x2="1503" y2="977.4" stroke="#0000ff" stroke-width="8.0" stroke-dasharray="13.8 13.8"/><line x1="1495.75" y1="1021.5" x2="1510.25" y2="1021.5" stroke="#0000ff" stroke-width="4.5"/><line x1="1488.75" y1="927.95" x2="1488.75" y2="979.65" stroke="#0000ff" stroke-width="7.0"/><line x1="1517.25" y1="927.95" x2="1517.25" y2="979.65" stroke="#0000ff" stroke-width="7.0"/><line x1="1485.25" y1="930.2" x2="1520.75" y2="930.2" stroke="#0000ff" stroke-width="4.5"/><line x1="1485.25" y1="977.4" x2="1520.75" y2="977.4" stroke="#0000ff" stroke-width="4.5"/><line x1="1485.25" y1="945.4" x2="1520.75" y2="945.4" stroke="#0000ff" stroke-width="4.5"/>
<text transform="translate(5.29,1654.40) scale(0.9066,1)" font-size="74.60" fill="#000">C</text>
<line x1="262.0" y1="1644.8" x2="1553.3" y2="1644.8" stroke="#222" stroke-width="2.2" />
<line x1="262.0" y1="2319.6" x2="1553.3" y2="2319.6" stroke="#222" stroke-width="2.2" />
<line x1="262.0" y1="1643.8" x2="262.0" y2="2320.6" stroke="#7a7a7a" stroke-width="2.2" />
<line x1="1553.3" y1="1643.8" x2="1553.3" y2="2320.6" stroke="#7a7a7a" stroke-width="2.2" />
<line x1="369.3" y1="2319.6" x2="369.3" y2="2305.6" stroke="#222" stroke-width="2.0" />
<line x1="369.3" y1="1644.8" x2="369.3" y2="1658.8" stroke="#222" stroke-width="2.0" />
<line x1="476.95000000000005" y1="2319.6" x2="476.95000000000005" y2="2305.6" stroke="#222" stroke-width="2.0" />
<line x1="476.95000000000005" y1="1644.8" x2="476.95000000000005" y2="1658.8" stroke="#222" stroke-width="2.0" />
<line x1="584.6" y1="2319.6" x2="584.6" y2="2305.6" stroke="#222" stroke-width="2.0" />
<line x1="584.6" y1="1644.8" x2="584.6" y2="1658.8" stroke="#222" stroke-width="2.0" />
<line x1="692.25" y1="2319.6" x2="692.25" y2="2305.6" stroke="#222" stroke-width="2.0" />
<line x1="692.25" y1="1644.8" x2="692.25" y2="1658.8" stroke="#222" stroke-width="2.0" />
<line x1="799.9000000000001" y1="2319.6" x2="799.9000000000001" y2="2305.6" stroke="#222" stroke-width="2.0" />
<line x1="799.9000000000001" y1="1644.8" x2="799.9000000000001" y2="1658.8" stroke="#222" stroke-width="2.0" />
<line x1="907.55" y1="2319.6" x2="907.55" y2="2305.6" stroke="#222" stroke-width="2.0" />
<line x1="907.55" y1="1644.8" x2="907.55" y2="1658.8" stroke="#222" stroke-width="2.0" />
<line x1="1015.2" y1="2319.6" x2="1015.2" y2="2305.6" stroke="#222" stroke-width="2.0" />
<line x1="1015.2" y1="1644.8" x2="1015.2" y2="1658.8" stroke="#222" stroke-width="2.0" />
<line x1="1122.8500000000001" y1="2319.6" x2="1122.8500000000001" y2="2305.6" stroke="#222" stroke-width="2.0" />
<line x1="1122.8500000000001" y1="1644.8" x2="1122.8500000000001" y2="1658.8" stroke="#222" stroke-width="2.0" />
<line x1="1230.5" y1="2319.6" x2="1230.5" y2="2305.6" stroke="#222" stroke-width="2.0" />
<line x1="1230.5" y1="1644.8" x2="1230.5" y2="1658.8" stroke="#222" stroke-width="2.0" />
<line x1="1338.15" y1="2319.6" x2="1338.15" y2="2305.6" stroke="#222" stroke-width="2.0" />
<line x1="1338.15" y1="1644.8" x2="1338.15" y2="1658.8" stroke="#222" stroke-width="2.0" />
<line x1="1445.8" y1="2319.6" x2="1445.8" y2="2305.6" stroke="#222" stroke-width="2.0" />
<line x1="1445.8" y1="1644.8" x2="1445.8" y2="1658.8" stroke="#222" stroke-width="2.0" />
<line x1="262.0" y1="2184.64" x2="276.0" y2="2184.64" stroke="#7a7a7a" stroke-width="2.0" />
<line x1="1553.3" y1="2184.64" x2="1539.3" y2="2184.64" stroke="#7a7a7a" stroke-width="2.0" />
<line x1="262.0" y1="2049.68" x2="276.0" y2="2049.68" stroke="#7a7a7a" stroke-width="2.0" />
<line x1="1553.3" y1="2049.68" x2="1539.3" y2="2049.68" stroke="#7a7a7a" stroke-width="2.0" />
<line x1="262.0" y1="1914.7199999999998" x2="276.0" y2="1914.7199999999998" stroke="#7a7a7a" stroke-width="2.0" />
<line x1="1553.3" y1="1914.7199999999998" x2="1539.3" y2="1914.7199999999998" stroke="#7a7a7a" stroke-width="2.0" />
<line x1="262.0" y1="1779.7599999999998" x2="276.0" y2="1779.7599999999998" stroke="#7a7a7a" stroke-width="2.0" />
<line x1="1553.3" y1="1779.7599999999998" x2="1539.3" y2="1779.7599999999998" stroke="#7a7a7a" stroke-width="2.0" />
<text transform="translate(223.09,2335.90) scale(0.9600,1)" font-size="42.30" fill="#262626">0</text>
<text transform="translate(1566.88,2336.20) scale(0.9600,1)" font-size="42.30" fill="#808080">0</text>
<text transform="translate(223.09,2200.94) scale(0.9600,1)" font-size="42.30" fill="#262626">2</text>
<text transform="translate(1565.86,2201.24) scale(0.9600,1)" font-size="42.30" fill="#808080">10</text>
<text transform="translate(221.67,2065.98) scale(0.9600,1)" font-size="42.30" fill="#262626">4</text>
<text transform="translate(1567.08,2066.28) scale(0.9600,1)" font-size="42.30" fill="#808080">20</text>
<text transform="translate(222.88,1931.02) scale(0.9600,1)" font-size="42.30" fill="#262626">6</text>
<text transform="translate(1567.48,1931.32) scale(0.9600,1)" font-size="42.30" fill="#808080">30</text>
<text transform="translate(222.68,1796.06) scale(0.9600,1)" font-size="42.30" fill="#262626">8</text>
<text transform="translate(1567.89,1796.36) scale(0.9600,1)" font-size="42.30" fill="#808080">40</text>
<text transform="translate(200.55,1661.10) scale(0.9600,1)" font-size="42.30" fill="#262626">10</text>
<text transform="translate(1567.28,1661.40) scale(0.9600,1)" font-size="42.30" fill="#808080">50</text>
<text transform="translate(349.92,2377.20) scale(0.9600,1)" font-size="42.30" fill="#262626">1</text>
<text transform="translate(459.53,2377.20) scale(0.9600,1)" font-size="42.30" fill="#262626">2</text>
<text transform="translate(567.03,2377.20) scale(0.9600,1)" font-size="42.30" fill="#262626">3</text>
<text transform="translate(674.03,2377.20) scale(0.9600,1)" font-size="42.30" fill="#262626">4</text>
<text transform="translate(782.43,2377.20) scale(0.9600,1)" font-size="42.30" fill="#262626">5</text>
<text transform="translate(890.23,2377.20) scale(0.9600,1)" font-size="42.30" fill="#262626">6</text>
<text transform="translate(997.13,2377.20) scale(0.9600,1)" font-size="42.30" fill="#262626">7</text>
<text transform="translate(1104.93,2377.20) scale(0.9600,1)" font-size="42.30" fill="#262626">8</text>
<text transform="translate(1211.43,2377.20) scale(0.9600,1)" font-size="42.30" fill="#262626">9</text>
<text transform="translate(1314.25,2377.20) scale(0.9600,1)" font-size="42.30" fill="#262626">10</text>
<text transform="translate(1419.77,2377.20) scale(0.9600,1)" font-size="42.30" fill="#262626">11</text>
<text transform="translate(764.84,2427.60) scale(0.9785,1)" font-size="42.90" fill="#111">Subject-Task</text>
<text transform="translate(179.40,2167.36) rotate(-90) scale(0.9860,1)" font-size="47.00" fill="#262626">Abs. Error (bpm)</text>
<text transform="translate(1644.00,1861.30) rotate(90) scale(0.9819,1)" font-size="47.00" fill="#808080">Rel. Error (%)</text>
<line x1="342.5" y1="2259.7" x2="342.5" y2="2205.6" stroke="#000" stroke-width="6.0" stroke-dasharray="17 17"/><line x1="335.75" y1="2205.6" x2="349.25" y2="2205.6" stroke="#000" stroke-width="5.5"/><line x1="342.5" y1="2316.8" x2="342.5" y2="2299.9" stroke="#000" stroke-width="6.0" stroke-dasharray="17 17"/><line x1="335.75" y1="2316.8" x2="349.25" y2="2316.8" stroke="#000" stroke-width="5.5"/><rect x="329.25" y="2259.7" width="26.5" height="40.20000000000027" fill="none" stroke="#000" stroke-width="5.5" stroke-linejoin="round"/><line x1="329.25" y1="2285.7" x2="355.75" y2="2285.7" stroke="#000" stroke-width="5.5"/>
<line x1="450" y1="2233.9" x2="450" y2="2146.5" stroke="#000" stroke-width="6.0" stroke-dasharray="17 17"/><line x1="443.25" y1="2146.5" x2="456.75" y2="2146.5" stroke="#000" stroke-width="5.5"/><line x1="450" y1="2318.3" x2="450" y2="2294.2" stroke="#000" stroke-width="6.0" stroke-dasharray="17 17"/><line x1="443.25" y1="2318.3" x2="456.75" y2="2318.3" stroke="#000" stroke-width="5.5"/><rect x="436.75" y="2233.9" width="26.5" height="60.29999999999973" fill="none" stroke="#000" stroke-width="5.5" stroke-linejoin="round"/><line x1="436.75" y1="2263.9" x2="463.25" y2="2263.9" stroke="#000" stroke-width="5.5"/>
<line x1="557.6" y1="2150.4" x2="557.6" y2="1981.4" stroke="#000" stroke-width="6.0" stroke-dasharray="17 17"/><line x1="550.85" y1="1981.4" x2="564.35" y2="1981.4" stroke="#000" stroke-width="5.5"/><line x1="557.6" y1="2318.3" x2="557.6" y2="2284.9" stroke="#000" stroke-width="6.0" stroke-dasharray="17 17"/><line x1="550.85" y1="2318.3" x2="564.35" y2="2318.3" stroke="#000" stroke-width="5.5"/><rect x="544.35" y="2150.4" width="26.5" height="134.5" fill="none" stroke="#000" stroke-width="5.5" stroke-linejoin="round"/><line x1="544.35" y1="2243.3" x2="570.85" y2="2243.3" stroke="#000" stroke-width="5.5"/>
<line x1="665.5" y1="2246.1" x2="665.5" y2="2172.5" stroke="#000" stroke-width="6.0" stroke-dasharray="17 17"/><line x1="658.75" y1="2172.5" x2="672.25" y2="2172.5" stroke="#000" stroke-width="5.5"/><line x1="665.5" y1="2318" x2="665.5" y2="2295.6" stroke="#000" stroke-width="6.0" stroke-dasharray="17 17"/><line x1="658.75" y1="2318" x2="672.25" y2="2318" stroke="#000" stroke-width="5.5"/><rect x="652.25" y="2246.1" width="26.5" height="49.5" fill="none" stroke="#000" stroke-width="5.5" stroke-linejoin="round"/><line x1="652.25" y1="2268.7" x2="678.75" y2="2268.7" stroke="#000" stroke-width="5.5"/>
<line x1="773" y1="2251.2" x2="773" y2="2178.7" stroke="#000" stroke-width="6.0" stroke-dasharray="17 17"/><line x1="766.25" y1="2178.7" x2="779.75" y2="2178.7" stroke="#000" stroke-width="5.5"/><line x1="773" y1="2318" x2="773" y2="2302.7" stroke="#000" stroke-width="6.0" stroke-dasharray="17 17"/><line x1="766.25" y1="2318" x2="779.75" y2="2318" stroke="#000" stroke-width="5.5"/><rect x="759.75" y="2251.2" width="26.5" height="51.5" fill="none" stroke="#000" stroke-width="5.5" stroke-linejoin="round"/><line x1="759.75" y1="2278.6" x2="786.25" y2="2278.6" stroke="#000" stroke-width="5.5"/>
<line x1="880.6" y1="2107.4" x2="880.6" y2="1861.1" stroke="#000" stroke-width="6.0" stroke-dasharray="17 17"/><line x1="873.85" y1="1861.1" x2="887.35" y2="1861.1" stroke="#000" stroke-width="5.5"/><line x1="880.6" y1="2318" x2="880.6" y2="2270.1" stroke="#000" stroke-width="6.0" stroke-dasharray="17 17"/><line x1="873.85" y1="2318" x2="887.35" y2="2318" stroke="#000" stroke-width="5.5"/><rect x="867.35" y="2107.4" width="26.5" height="162.69999999999982" fill="none" stroke="#000" stroke-width="5.5" stroke-linejoin="round"/><line x1="867.35" y1="2202.2" x2="893.85" y2="2202.2" stroke="#000" stroke-width="5.5"/>
<line x1="988.1" y1="2082.5" x2="988.1" y2="1797.5" stroke="#000" stroke-width="6.0" stroke-dasharray="17 17"/><line x1="981.35" y1="1797.5" x2="994.85" y2="1797.5" stroke="#000" stroke-width="5.5"/><line x1="988.1" y1="2318" x2="988.1" y2="2275.8" stroke="#000" stroke-width="6.0" stroke-dasharray="17 17"/><line x1="981.35" y1="2318" x2="994.85" y2="2318" stroke="#000" stroke-width="5.5"/><rect x="974.85" y="2082.5" width="26.5" height="193.30000000000018" fill="none" stroke="#000" stroke-width="5.5" stroke-linejoin="round"/><line x1="974.85" y1="2216.4" x2="1001.35" y2="2216.4" stroke="#000" stroke-width="5.5"/>
<line x1="1096" y1="2245.5" x2="1096" y2="2158.3" stroke="#000" stroke-width="6.0" stroke-dasharray="17 17"/><line x1="1089.25" y1="2158.3" x2="1102.75" y2="2158.3" stroke="#000" stroke-width="5.5"/><line x1="1096" y1="2318" x2="1096" y2="2304.1" stroke="#000" stroke-width="6.0" stroke-dasharray="17 17"/><line x1="1089.25" y1="2318" x2="1102.75" y2="2318" stroke="#000" stroke-width="5.5"/><rect x="1082.75" y="2245.5" width="26.5" height="58.59999999999991" fill="none" stroke="#000" stroke-width="5.5" stroke-linejoin="round"/><line x1="1082.75" y1="2282.9" x2="1109.25" y2="2282.9" stroke="#000" stroke-width="5.5"/>
<line x1="1203.6" y1="2166.3" x2="1203.6" y2="1985.7" stroke="#000" stroke-width="6.0" stroke-dasharray="17 17"/><line x1="1196.85" y1="1985.7" x2="1210.35" y2="1985.7" stroke="#000" stroke-width="5.5"/><line x1="1203.6" y1="2318" x2="1203.6" y2="2292.8" stroke="#000" stroke-width="6.0" stroke-dasharray="17 17"/><line x1="1196.85" y1="2318" x2="1210.35" y2="2318" stroke="#000" stroke-width="5.5"/><rect x="1190.35" y="2166.3" width="26.5" height="126.5" fill="none" stroke="#000" stroke-width="5.5" stroke-linejoin="round"/><line x1="1190.35" y1="2263.6" x2="1216.85" y2="2263.6" stroke="#000" stroke-width="5.5"/>
<line x1="1311.2" y1="2219.2" x2="1311.2" y2="2103.2" stroke="#000" stroke-width="6.0" stroke-dasharray="17 17"/><line x1="1304.45" y1="2103.2" x2="1317.95" y2="2103.2" stroke="#000" stroke-width="5.5"/><line x1="1311.2" y1="2318" x2="1311.2" y2="2297.9" stroke="#000" stroke-width="6.0" stroke-dasharray="17 17"/><line x1="1304.45" y1="2318" x2="1317.95" y2="2318" stroke="#000" stroke-width="5.5"/><rect x="1297.95" y="2219.2" width="26.5" height="78.70000000000027" fill="none" stroke="#000" stroke-width="5.5" stroke-linejoin="round"/><line x1="1297.95" y1="2258.8" x2="1324.45" y2="2258.8" stroke="#000" stroke-width="5.5"/>
<line x1="1419" y1="2211" x2="1419" y2="2084.5" stroke="#000" stroke-width="6.0" stroke-dasharray="17 17"/><line x1="1412.25" y1="2084.5" x2="1425.75" y2="2084.5" stroke="#000" stroke-width="5.5"/><line x1="1419" y1="2318" x2="1419" y2="2295.8" stroke="#000" stroke-width="6.0" stroke-dasharray="17 17"/><line x1="1412.25" y1="2318" x2="1425.75" y2="2318" stroke="#000" stroke-width="5.5"/><rect x="1405.75" y="2211" width="26.5" height="84.80000000000018" fill="none" stroke="#000" stroke-width="5.5" stroke-linejoin="round"/><line x1="1405.75" y1="2263.3" x2="1432.25" y2="2263.3" stroke="#000" stroke-width="5.5"/>
<line x1="396.8" y1="2101.7" x2="396.8" y2="1939.6" stroke="#848484" stroke-width="6.0" stroke-dasharray="17 17"/><line x1="390.05" y1="1939.6" x2="403.55" y2="1939.6" stroke="#848484" stroke-width="5.5"/><line x1="396.8" y1="2311.8" x2="396.8" y2="2248.9" stroke="#848484" stroke-width="6.0" stroke-dasharray="17 17"/><line x1="390.05" y1="2311.8" x2="403.55" y2="2311.8" stroke="#848484" stroke-width="5.5"/><rect x="383.55" y="2101.7" width="26.5" height="147.20000000000027" fill="none" stroke="#848484" stroke-width="5.5" stroke-linejoin="round"/><line x1="383.55" y1="2188.1" x2="410.05" y2="2188.1" stroke="#848484" stroke-width="5.5"/>
<line x1="503.8" y1="2183.2" x2="503.8" y2="2042.9" stroke="#848484" stroke-width="6.0" stroke-dasharray="17 17"/><line x1="497.05" y1="2042.9" x2="510.55" y2="2042.9" stroke="#848484" stroke-width="5.5"/><line x1="503.8" y1="2318.3" x2="503.8" y2="2278.1" stroke="#848484" stroke-width="6.0" stroke-dasharray="17 17"/><line x1="497.05" y1="2318.3" x2="510.55" y2="2318.3" stroke="#848484" stroke-width="5.5"/><rect x="490.55" y="2183.2" width="26.5" height="94.90000000000009" fill="none" stroke="#848484" stroke-width="5.5" stroke-linejoin="round"/><line x1="490.55" y1="2235.3" x2="517.05" y2="2235.3" stroke="#848484" stroke-width="5.5"/>
<line x1="611.6" y1="2078.5" x2="611.6" y2="1794.6" stroke="#848484" stroke-width="6.0" stroke-dasharray="17 17"/><line x1="604.85" y1="1794.6" x2="618.35" y2="1794.6" stroke="#848484" stroke-width="5.5"/><line x1="611.6" y1="2318.3" x2="611.6" y2="2277.2" stroke="#848484" stroke-width="6.0" stroke-dasharray="17 17"/><line x1="604.85" y1="2318.3" x2="618.35" y2="2318.3" stroke="#848484" stroke-width="5.5"/><rect x="598.35" y="2078.5" width="26.5" height="198.69999999999982" fill="none" stroke="#848484" stroke-width="5.5" stroke-linejoin="round"/><line x1="598.35" y1="2212.1" x2="624.85" y2="2212.1" stroke="#848484" stroke-width="5.5"/>
<line x1="719.3" y1="2221.2" x2="719.3" y2="2127.2" stroke="#848484" stroke-width="6.0" stroke-dasharray="17 17"/><line x1="712.55" y1="2127.2" x2="726.05" y2="2127.2" stroke="#848484" stroke-width="5.5"/><line x1="719.3" y1="2318" x2="719.3" y2="2289.1" stroke="#848484" stroke-width="6.0" stroke-dasharray="17 17"/><line x1="712.55" y1="2318" x2="726.05" y2="2318" stroke="#848484" stroke-width="5.5"/><rect x="706.05" y="2221.2" width="26.5" height="67.90000000000009" fill="none" stroke="#848484" stroke-width="5.5" stroke-linejoin="round"/><line x1="706.05" y1="2256" x2="732.55" y2="2256" stroke="#848484" stroke-width="5.5"/>
<line x1="826.8" y1="2237.6" x2="826.8" y2="2158.9" stroke="#848484" stroke-width="6.0" stroke-dasharray="17 17"/><line x1="820.05" y1="2158.9" x2="833.55" y2="2158.9" stroke="#848484" stroke-width="5.5"/><line x1="826.8" y1="2318" x2="826.8" y2="2297" stroke="#848484" stroke-width="6.0" stroke-dasharray="17 17"/><line x1="820.05" y1="2318" x2="833.55" y2="2318" stroke="#848484" stroke-width="5.5"/><rect x="813.55" y="2237.6" width="26.5" height="59.40000000000009" fill="none" stroke="#848484" stroke-width="5.5" stroke-linejoin="round"/><line x1="813.55" y1="2265.9" x2="840.05" y2="2265.9" stroke="#848484" stroke-width="5.5"/>
<line x1="934.4" y1="2074" x2="934.4" y2="1793.2" stroke="#848484" stroke-width="6.0" stroke-dasharray="17 17"/><line x1="927.65" y1="1793.2" x2="941.15" y2="1793.2" stroke="#848484" stroke-width="5.5"/><line x1="934.4" y1="2318" x2="934.4" y2="2264.5" stroke="#848484" stroke-width="6.0" stroke-dasharray="17 17"/><line x1="927.65" y1="2318" x2="941.15" y2="2318" stroke="#848484" stroke-width="5.5"/><rect x="921.15" y="2074" width="26.5" height="190.5" fill="none" stroke="#848484" stroke-width="5.5" stroke-linejoin="round"/><line x1="921.15" y1="2181.6" x2="947.65" y2="2181.6" stroke="#848484" stroke-width="5.5"/>
<line x1="1042.3" y1="2070.6" x2="1042.3" y2="1759.3" stroke="#848484" stroke-width="6.0" stroke-dasharray="17 17"/><line x1="1035.55" y1="1759.3" x2="1049.05" y2="1759.3" stroke="#848484" stroke-width="5.5"/><line x1="1042.3" y1="2318" x2="1042.3" y2="2277.2" stroke="#848484" stroke-width="6.0" stroke-dasharray="17 17"/><line x1="1035.55" y1="2318" x2="1049.05" y2="2318" stroke="#848484" stroke-width="5.5"/><rect x="1029.05" y="2070.6" width="26.5" height="206.5999999999999" fill="none" stroke="#848484" stroke-width="5.5" stroke-linejoin="round"/><line x1="1029.05" y1="2222" x2="1055.55" y2="2222" stroke="#848484" stroke-width="5.5"/>
<line x1="1149.8" y1="2257.4" x2="1149.8" y2="2187.5" stroke="#848484" stroke-width="6.0" stroke-dasharray="17 17"/><line x1="1143.05" y1="2187.5" x2="1156.55" y2="2187.5" stroke="#848484" stroke-width="5.5"/><line x1="1149.8" y1="2318" x2="1149.8" y2="2307.8" stroke="#848484" stroke-width="6.0" stroke-dasharray="17 17"/><line x1="1143.05" y1="2318" x2="1156.55" y2="2318" stroke="#848484" stroke-width="5.5"/><rect x="1136.55" y="2257.4" width="26.5" height="50.40000000000009" fill="none" stroke="#848484" stroke-width="5.5" stroke-linejoin="round"/><line x1="1136.55" y1="2289.1" x2="1163.05" y2="2289.1" stroke="#848484" stroke-width="5.5"/>
<line x1="1257.4" y1="2204.2" x2="1257.4" y2="2062.7" stroke="#848484" stroke-width="6.0" stroke-dasharray="17 17"/><line x1="1250.65" y1="2062.7" x2="1264.15" y2="2062.7" stroke="#848484" stroke-width="5.5"/><line x1="1257.4" y1="2318" x2="1257.4" y2="2300.7" stroke="#848484" stroke-width="6.0" stroke-dasharray="17 17"/><line x1="1250.65" y1="2318" x2="1264.15" y2="2318" stroke="#848484" stroke-width="5.5"/><rect x="1244.15" y="2204.2" width="26.5" height="96.5" fill="none" stroke="#848484" stroke-width="5.5" stroke-linejoin="round"/><line x1="1244.15" y1="2279.2" x2="1270.65" y2="2279.2" stroke="#848484" stroke-width="5.5"/>
<line x1="1364.8" y1="2250" x2="1364.8" y2="2173.5" stroke="#848484" stroke-width="6.0" stroke-dasharray="17 17"/><line x1="1358.05" y1="2173.5" x2="1371.55" y2="2173.5" stroke="#848484" stroke-width="5.5"/><line x1="1364.8" y1="2318" x2="1364.8" y2="2304.6" stroke="#848484" stroke-width="6.0" stroke-dasharray="17 17"/><line x1="1358.05" y1="2318" x2="1371.55" y2="2318" stroke="#848484" stroke-width="5.5"/><rect x="1351.55" y="2250" width="26.5" height="54.59999999999991" fill="none" stroke="#848484" stroke-width="5.5" stroke-linejoin="round"/><line x1="1351.55" y1="2277.5" x2="1378.05" y2="2277.5" stroke="#848484" stroke-width="5.5"/>
<line x1="1472.6" y1="2252.6" x2="1472.6" y2="2175.5" stroke="#848484" stroke-width="6.0" stroke-dasharray="17 17"/><line x1="1465.85" y1="2175.5" x2="1479.35" y2="2175.5" stroke="#848484" stroke-width="5.5"/><line x1="1472.6" y1="2318" x2="1472.6" y2="2305.4" stroke="#848484" stroke-width="6.0" stroke-dasharray="17 17"/><line x1="1465.85" y1="2318" x2="1479.35" y2="2318" stroke="#848484" stroke-width="5.5"/><rect x="1459.35" y="2252.6" width="26.5" height="52.80000000000018" fill="none" stroke="#848484" stroke-width="5.5" stroke-linejoin="round"/><line x1="1459.35" y1="2284.4" x2="1485.85" y2="2284.4" stroke="#848484" stroke-width="5.5"/>
</svg>
</body></html>
